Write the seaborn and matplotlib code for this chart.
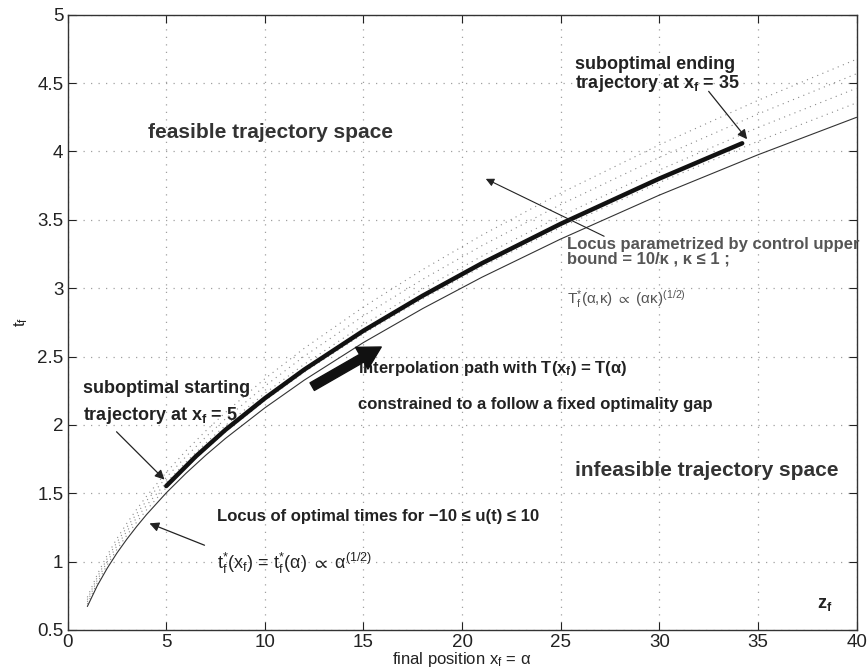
import matplotlib
matplotlib.use("Agg")
import matplotlib.pyplot as plt
import seaborn as sns
import pandas as pd

# ---- data ----
x_pts = [1, 1.5, 2, 2.5, 3, 3.5, 4, 5, 6, 7, 8, 10, 12, 15, 18, 21, 25, 30, 35, 40]
t_optimal = [0.672, 0.823, 0.950, 1.063, 1.164, 1.257, 1.344, 1.503, 1.646, 1.778,
             1.901, 2.125, 2.328, 2.603, 2.851, 3.080, 3.360, 3.681, 3.976, 4.250]
t_kappa_1 = [0.689, 0.844, 0.974, 1.089, 1.193, 1.289, 1.378, 1.541, 1.687, 1.822,
             1.948, 2.178, 2.386, 2.668, 2.922, 3.157, 3.444, 3.773, 4.075, 4.356]
t_kappa_2 = [0.706, 0.864, 0.998, 1.116, 1.222, 1.320, 1.411, 1.578, 1.728, 1.867,
             1.996, 2.231, 2.444, 2.733, 2.994, 3.234, 3.528, 3.865, 4.175, 4.463]
t_kappa_3 = [0.722, 0.885, 1.021, 1.142, 1.251, 1.351, 1.445, 1.616, 1.769, 1.911,
             2.044, 2.284, 2.503, 2.798, 3.065, 3.311, 3.612, 3.957, 4.274, 4.569]
t_kappa_4 = [0.739, 0.905, 1.045, 1.169, 1.280, 1.383, 1.478, 1.653, 1.811, 1.956,
             2.091, 2.338, 2.561, 2.863, 3.136, 3.388, 3.696, 4.049, 4.374, 4.675]

x_path = [5, 6.5, 8, 10, 12, 15, 18, 21, 25, 30, 34.2]
t_path = [1.553, 1.770, 1.964, 2.195, 2.405, 2.689, 2.945, 3.182, 3.471, 3.802, 4.060]

x_ticks = [0, 5, 10, 15, 20, 25, 30, 35, 40]
y_ticks = [0.5, 1, 1.5, 2, 2.5, 3, 3.5, 4, 4.5, 5]
y_tick_labels = ["0.5", "1", "1.5", "2", "2.5", "3", "3.5", "4", "4.5", "5"]

# ---- style ----
sns.set_theme(style="ticks")
plt.rcParams["font.family"] = ["Liberation Sans", "DejaVu Sans"]
plt.rcParams["mathtext.fontset"] = "custom"
plt.rcParams["mathtext.rm"] = "Liberation Sans"
plt.rcParams["mathtext.it"] = "Liberation Sans"
plt.rcParams["mathtext.bf"] = "Liberation Sans:bold"
plt.rcParams["mathtext.fallback"] = "stixsans"

fig = plt.figure(figsize=(8.67, 6.72), dpi=100)
ax = fig.add_axes([0.078, 0.0625, 0.910, 0.9155])

n = len(x_pts)
kappa_df = pd.DataFrame({
    "x": x_pts * 4,
    "t": t_kappa_1 + t_kappa_2 + t_kappa_3 + t_kappa_4,
    "k": sum([[i] * n for i in range(4)], []),
})
for k, grp in kappa_df.groupby("k"):
    sns.lineplot(x=grp["x"], y=grp["t"], ax=ax, color="#8a8a8a",
                 linewidth=0.8, linestyle=(0, (1, 4)), estimator=None, sort=False)

sns.lineplot(x=x_pts, y=t_optimal, ax=ax, color="#333333", linewidth=0.8,
             estimator=None, sort=False)
sns.lineplot(x=x_path, y=t_path, ax=ax, color="#111111", linewidth=3.2,
             estimator=None, sort=False)

ax.set_xlim(0, 40)
ax.set_ylim(0.5, 5)
ax.set_xticks(x_ticks)
ax.set_yticks(y_ticks)
ax.set_yticklabels(y_tick_labels)
ax.tick_params(direction="in", length=6, width=0.8, top=True, right=True,
               labelsize=13.5, colors="#222222", pad=3)
for s in ax.spines.values():
    s.set_linewidth(1.0)
    s.set_color("#333333")
ax.grid(True, color="#a0a0a0", linestyle=(0, (1, 5)), linewidth=0.9)

ax.set_xlabel(r"final position x$_\mathrm{f}$ = α", fontsize=12, color="#222222", labelpad=-1)
ax.set_ylabel(r"t$_\mathrm{f}$", fontsize=12, color="#222222", labelpad=5)

dark = "#222222"
ax.text(4.05, 4.14, "feasible trajectory space", fontsize=15, fontweight="bold",
        color="#333333", va="center", ha="left")
ax.text(25.7, 1.67, "infeasible trajectory space", fontsize=15, fontweight="bold",
        color="#333333", va="center", ha="left")

ax.text(25.7, 4.56, "suboptimal ending\n" + r"trajectory at x$_\mathbf{f}$ = 35",
        fontsize=13, fontweight="bold", color=dark, va="center", ha="left",
        linespacing=0.95)
ax.annotate("", xy=(34.45, 4.09), xytext=(32.5, 4.44),
            arrowprops=dict(arrowstyle="-|>", color=dark, lw=0.9,
                            mutation_scale=14, shrinkA=0, shrinkB=0))

ax.text(25.3, 3.27, "Locus parametrized by control upper\nbound = 10/κ , κ ≤ 1 ;",
        fontsize=12, fontweight="bold", color="#555555", va="center", ha="left",
        linespacing=0.95)
ax.text(25.3, 2.92, r"T$_\mathrm{f}^{*}$(α,κ) $\propto$ (ακ)$^{(1/2)}$",
        fontsize=11, color="#555555", va="center", ha="left")
ax.annotate("", xy=(21.2, 3.80), xytext=(27.2, 3.38),
            arrowprops=dict(arrowstyle="-|>", color=dark, lw=0.8,
                            mutation_scale=12, shrinkA=0, shrinkB=0))

ax.text(14.7, 2.41, r"interpolation path with T(x$_\mathbf{f}$) = T(α)",
        fontsize=12, fontweight="bold", color=dark, va="center", ha="left")
ax.text(14.7, 2.15, "constrained to a follow a fixed optimality gap",
        fontsize=12, fontweight="bold", color=dark, va="center", ha="left")
ax.annotate("", xy=(15.9, 2.57), xytext=(12.4, 2.28),
            arrowprops=dict(arrowstyle="simple,head_length=0.9,head_width=1.0,tail_width=0.35",
                            color="#111111", mutation_scale=18, shrinkA=0, shrinkB=0))

ax.text(0.76, 2.27, "suboptimal starting",
        fontsize=13, fontweight="bold", color=dark, va="center", ha="left")
ax.text(0.76, 2.07, r"trajectory at x$_\mathbf{f}$ = 5",
        fontsize=13, fontweight="bold", color=dark, va="center", ha="left")
ax.annotate("", xy=(4.91, 1.60), xytext=(2.48, 1.95),
            arrowprops=dict(arrowstyle="-|>", color=dark, lw=0.9,
                            mutation_scale=14, shrinkA=0, shrinkB=0))

ax.text(7.55, 1.33, "Locus of optimal times for −10 ≤ u(t) ≤ 10",
        fontsize=12, fontweight="bold", color=dark, va="center", ha="left")
ax.text(7.55, 0.99, r"t$_\mathrm{f}^{*}$(x$_\mathrm{f}$) = t$_\mathrm{f}^{*}$(α) $\propto$ α$^{(1/2)}$",
        fontsize=13, color=dark, va="center", ha="left")
ax.annotate("", xy=(4.15, 1.28), xytext=(6.94, 1.12),
            arrowprops=dict(arrowstyle="-|>", color=dark, lw=0.9,
                            mutation_scale=14, shrinkA=0, shrinkB=0))

ax.text(38.0, 0.69, r"z$_\mathbf{f}$", fontsize=13, fontweight="bold", color=dark,
        va="center", ha="left")

fig.savefig("out.png", dpi=100)
